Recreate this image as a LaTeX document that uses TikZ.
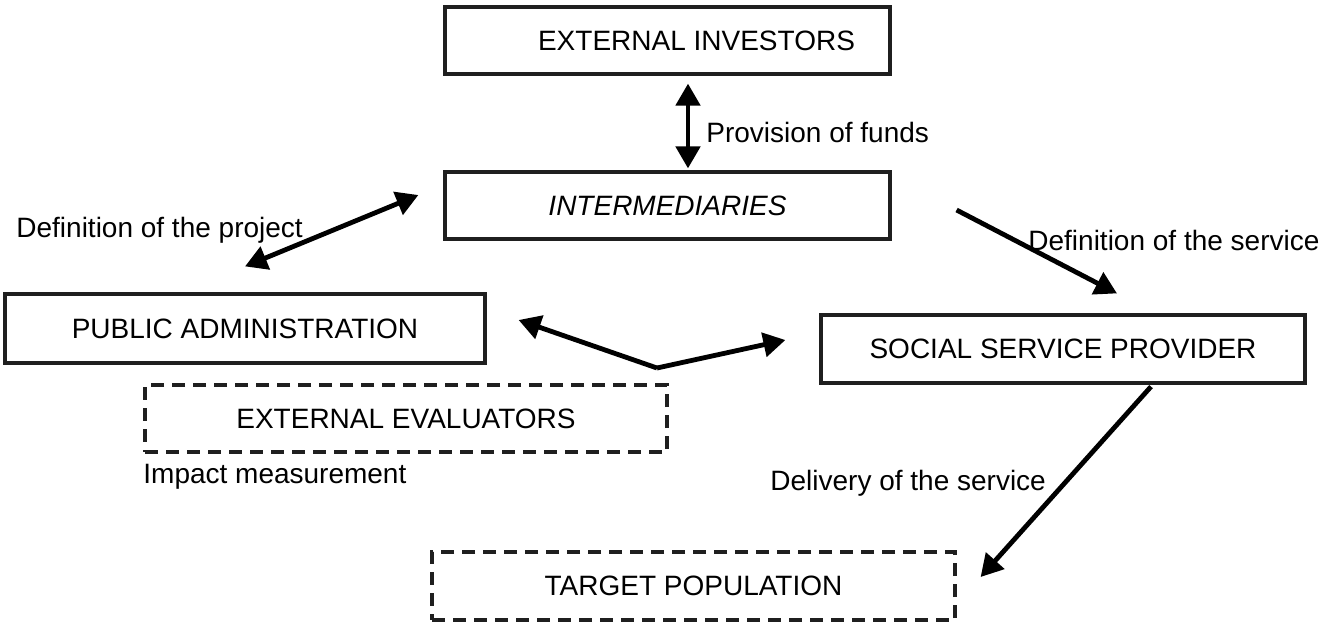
\documentclass[tikz,border=0pt]{standalone}
\usepackage{fontspec}
\setmainfont{Liberation Sans}
\usetikzlibrary{arrows.meta,positioning,calc}

\begin{document}
\begin{tikzpicture}[
  x=0.5pt,y=-0.5pt,
  actor/.style={draw=black!88, line width=1.6pt, minimum height=33.5pt, inner sep=0pt, font=\fontsize{14pt}{17pt}\selectfont, align=center},
  actordash/.style={actor, dash pattern=on 6.5pt off 4pt},
  link/.style={{Triangle[length=11pt,width=12pt]}-{Triangle[length=11pt,width=12pt]}, draw=black, line width=2.4pt},
  flow/.style={-{Triangle[length=11pt,width=12pt]}, draw=black, line width=2.4pt},
  note/.style={font=\fontsize{14pt}{17pt}\selectfont, inner sep=0pt, anchor=west}
]
  \useasboundingbox (0,0) rectangle (1329,629);

  \node[actor, minimum width=222.5pt] (investors) at (667.5,40.5) {\hspace*{29pt}EXTERNAL INVESTORS};
  \node[actor, minimum width=222.5pt] (intermed) at (667.5,205.5) {\itshape INTERMEDIARIES};
  \node[actor, minimum width=240pt, minimum height=34.5pt] (pubadmin) at (245,328.5) {PUBLIC ADMINISTRATION};
  \node[actor, minimum width=242pt, minimum height=34pt] (provider) at (1063,349) {SOCIAL SERVICE PROVIDER};
  \node[actordash, minimum width=261pt] (evaluators) at (406,418.5) {EXTERNAL EVALUATORS};
  \node[actordash, minimum width=261.5pt, minimum height=34pt] (target) at (693.5,586) {TARGET POPULATION};

  \coordinate (vmeet) at (657,368);

  \draw[link] ([xshift=10.25pt,yshift=-4pt]investors.south) -- ([xshift=10.25pt,yshift=1pt]intermed.north);
  \draw[link] ([shift={(0,-26)}]pubadmin.north) -- ([shift={(-25,-10.5)}]intermed.west);
  \draw[flow] ([shift={(65,4.5)}]intermed.east) -- ([shift={(54,-20)}]provider.north);
  \draw[flow] (vmeet) -- ([shift={(32,-8.5)}]pubadmin.east);
  \draw[flow] (vmeet) -- ([shift={(-34,-9)}]provider.west);
  \draw[flow] ([shift={(88,2)}]provider.south) -- ([shift={(24,-9)}]target.east);

  \node[note] (funds) at (706,132) {Provision of funds};
  \node[note] (project) at (16,230) {Definition of the project};
  \node[note] (service) at (1028,240) {Definition of the service};
  \node[note] (impact) at (143,477) {Impact measurement};
  \node[note] (delivery) at (770,483) {Delivery of the service};
\end{tikzpicture}
\end{document}
